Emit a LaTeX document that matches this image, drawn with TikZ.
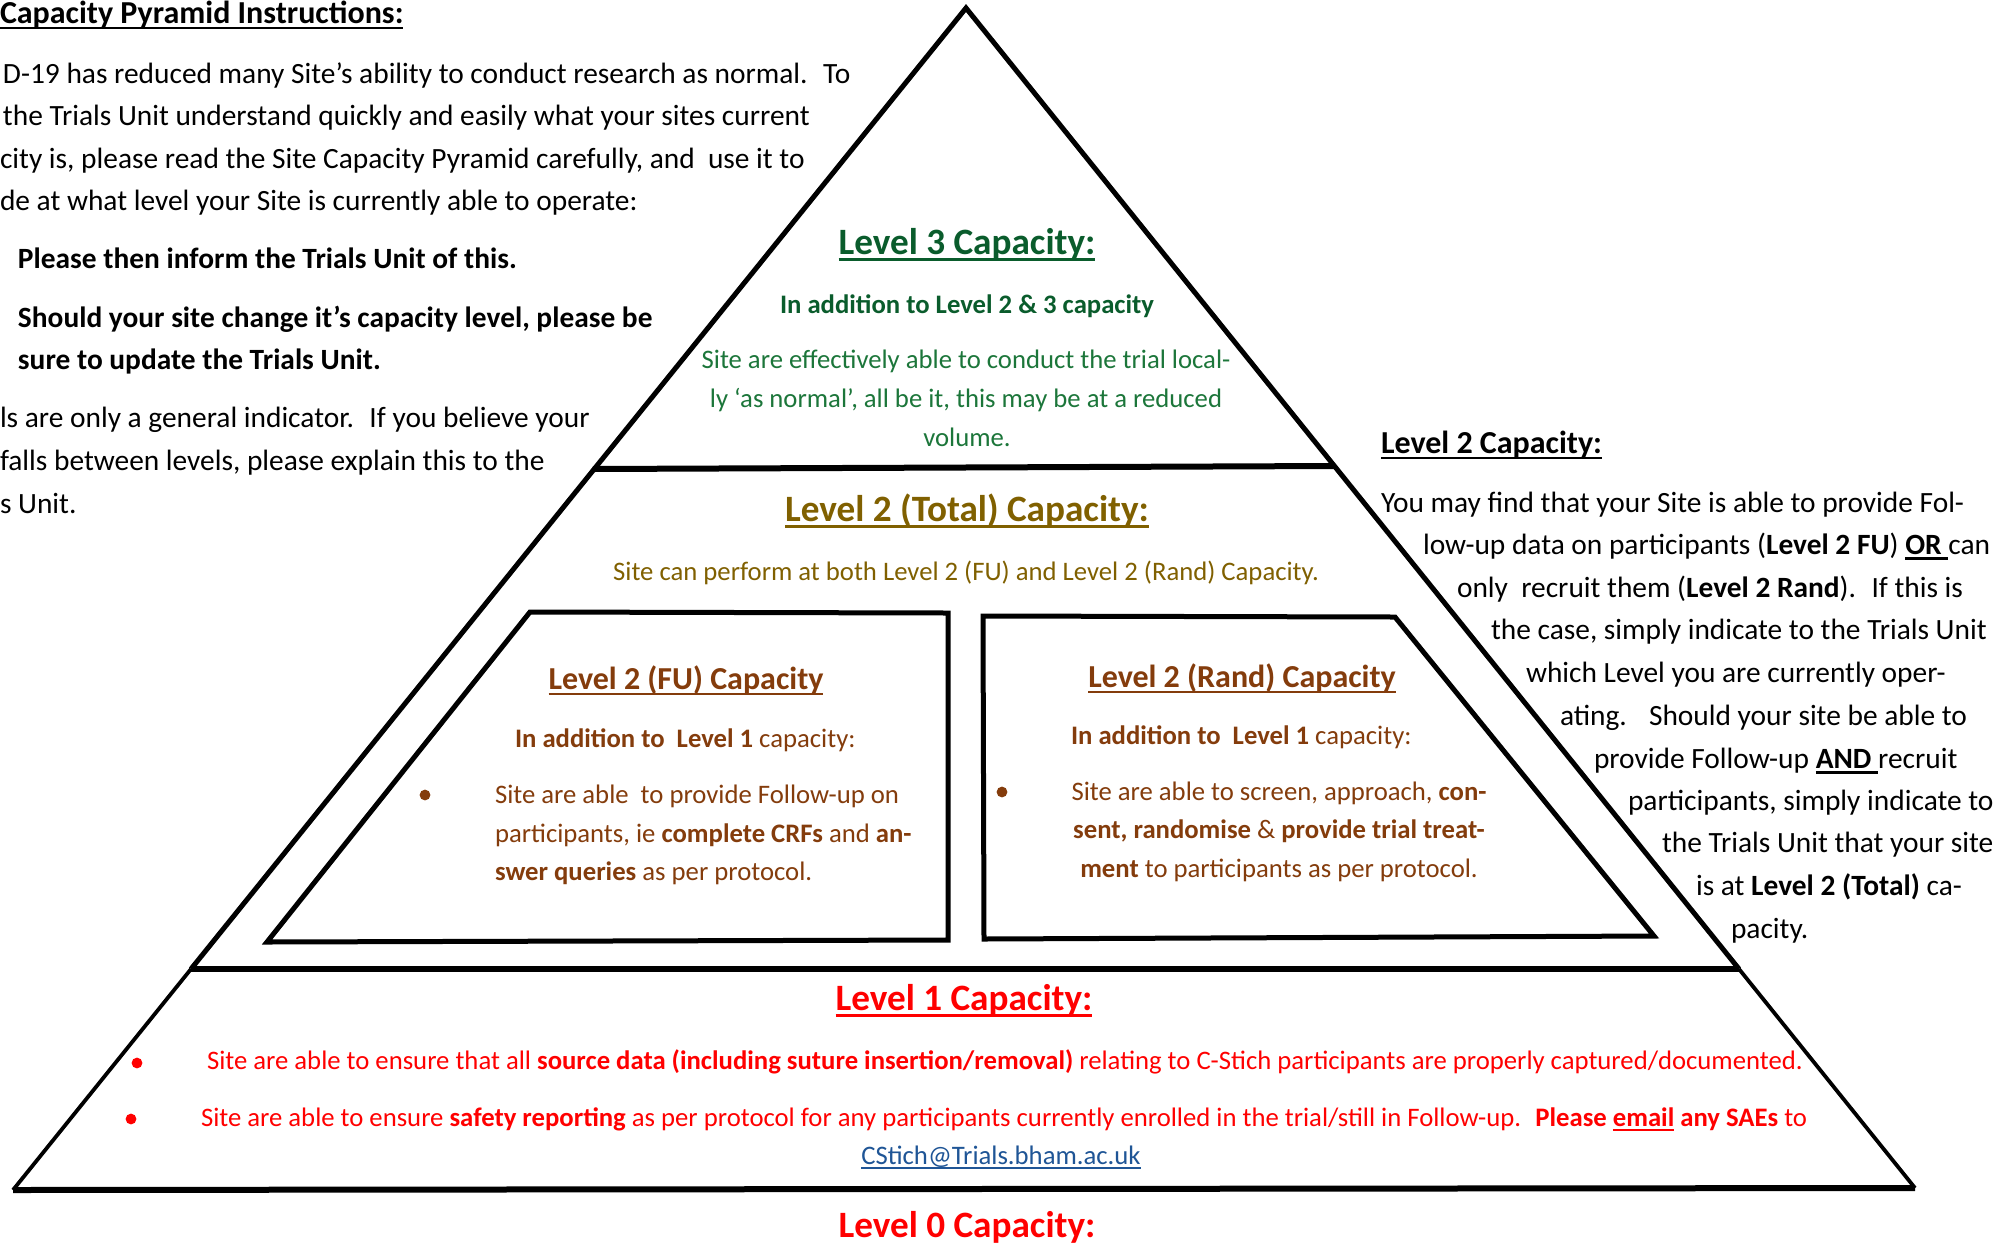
\documentclass[tikz,border=0pt]{standalone}
\usepackage{fontspec}
\setmainfont{Carlito}
\definecolor{gthree}{RGB}{10,92,44}
\definecolor{gbody}{RGB}{28,118,58}
\definecolor{olv}{RGB}{128,96,0}
\definecolor{brn}{RGB}{132,60,12}
\definecolor{lnk}{RGB}{31,85,150}
\newsavebox\ulbox
\newcommand\myul[1]{\sbox\ulbox{#1}\rlap{\rule[-0.19em]{\wd\ulbox}{0.075em}}\usebox\ulbox}
\newcommand\fA{\fontsize{13.35}{15}\selectfont}
\newcommand\fB{\fontsize{14.7}{17}\selectfont}
\newcommand\fC{\fontsize{16.0}{19}\selectfont}
\newcommand\fD{\fontsize{18.6}{22}\selectfont}
\tikzset{
  lt/.style={inner sep=0pt, outer sep=0pt, anchor=base west},
  ct/.style={inner sep=0pt, outer sep=0pt, anchor=base},
  pyr/.style={line width=2.5pt, line join=miter},
  lowside/.style={line width=1.9pt},
  divl/.style={line width=3pt},
  boxl/.style={line width=2.5pt, line join=miter},
}
\begin{document}
\begin{tikzpicture}[x=0.5pt,y=-0.5pt]
\fill[white] (0,0) rectangle (2013,1243);
\useasboundingbox (0,0) rectangle (2013,1243);

% ---- pyramid
\coordinate (A) at (966,8);
\coordinate (ML) at (191,969);
\coordinate (MR) at (1739,969);
\coordinate (BL) at (13,1190);
\coordinate (BR) at (1915,1188);
\draw[divl] (593,469) -- (1334,466);
\draw[divl] (ML) -- (MR);
\draw[lowside] (ML) -- (BL);
\draw[lowside] (MR) -- (BR);
\draw[divl] (BL) -- (BR);
\draw[pyr] (ML) -- (A) -- (MR);
\draw[boxl] (530,612) -- (948,613) -- (948,940) -- (267,942) -- cycle;
\draw[boxl] (983,616) -- (1395,617) -- (1654,936) -- (984,939) -- cycle;

% ---- left instructions
\node[lt,font=\fC\bfseries] (title) at (0,23) {\myul{Capacity Pyramid Instructions:}};
\node[lt,font=\fB] (l1) at (3,83) {D-19 has reduced many Site’s ability to conduct research as normal.~ To};
\node[lt,font=\fB] (l2) at (3,125) {the Trials Unit understand quickly and easily what your sites current};
\node[lt,font=\fB] (l3) at (0,168) {city is, please read the Site Capacity Pyramid carefully, and~ use it to};
\node[lt,font=\fB] (l4) at (0,210) {de at what level your Site is currently able to operate:};
\node[lt,font=\fB\bfseries] (b1) at (18,268) {Please then inform the Trials Unit of this.};
\node[lt,font=\fB\bfseries] (b2) at (18,327) {Should your site change it’s capacity level, please be};
\node[lt,font=\fB\bfseries] (b3) at (18,369) {sure to update the Trials Unit.};
\node[lt,font=\fB] (p1) at (0,427) {ls are only a general indicator.~ If you believe your};
\node[lt,font=\fB] (p2) at (0,470) {falls between levels, please explain this to the};
\node[lt,font=\fB] (p3) at (0,513) {s Unit.};

% ---- level 3
\node[ct,font=\fD\bfseries,text=gthree] (h3) at (967,254) {\myul{Level 3 Capacity:}};
\node[ct,font=\fA\bfseries,text=gthree] (a3) at (967,313) {In addition to Level 2 \& 3 capacity};
\node[ct,font=\fA,text=gbody] (g1) at (966,368) {Site are effectively able to conduct the trial local-};
\node[ct,font=\fA,text=gbody] (g2) at (966,407) {ly ‘as normal’, all be it, this may be at a reduced};
\node[ct,font=\fA,text=gbody] (g3) at (967,446) {volume.};

% ---- level 2 total
\node[ct,font=\fD\bfseries,text=olv] (h2t) at (967,521) {\myul{Level 2 (Total) Capacity:}};
\node[ct,font=\fA,text=olv] (s2t) at (966,580) {Site can perform at both Level 2 (FU) and Level 2 (Rand) Capacity.};

% ---- FU box
\node[ct,font=\fC\bfseries,text=brn] (hfu) at (686,689) {\myul{Level 2 (FU) Capacity}};
\node[lt,font=\fA,text=brn] (afu) at (515,747) {\textbf{In addition to~ Level 1} capacity:};
\fill[brn] (425,795) circle (2.7pt);
\node[lt,font=\fA,text=brn] (f1) at (495,803) {Site are able~ to provide Follow-up on};
\node[lt,font=\fA,text=brn] (f2) at (495,842) {participants, ie \textbf{complete CRFs} and \textbf{an-}};
\node[lt,font=\fA,text=brn] (f3) at (495,880) {\textbf{swer queries} as per protocol.};

% ---- Rand box
\node[ct,font=\fC\bfseries,text=brn] (hr) at (1242,687) {\myul{Level 2 (Rand) Capacity}};
\node[lt,font=\fA,text=brn] (ar) at (1071,744) {\textbf{In addition to~ Level 1} capacity:};
\fill[brn] (1002,792) circle (2.7pt);
\node[ct,font=\fA,text=brn] (r1) at (1279,800) {Site are able to screen, approach, \textbf{con-}};
\node[ct,font=\fA,text=brn] (r2) at (1279,838) {\textbf{sent, randomise} \& \textbf{provide trial treat-}};
\node[ct,font=\fA,text=brn] (r3) at (1279,877) {\textbf{ment} to participants as per protocol.};

% ---- level 1
\node[ct,font=\fD\bfseries,text=red] (h1) at (964,1010) {\myul{Level 1 Capacity:}};
\fill[red] (137,1063) circle (2.7pt);
\node[lt,font=\fA,text=red] (la) at (207,1069) {Site are able to ensure that all \textbf{source data (including suture insertion/removal)} relating to C-Stich participants are properly captured/documented.};
\fill[red] (131,1119) circle (2.7pt);
\node[lt,font=\fA,text=red] (lb) at (201,1126) {Site are able to ensure \textbf{safety reporting} as per protocol for any participants currently enrolled in the trial/still in Follow-up.~ \textbf{Please \myul{email} any SAEs} to};
\node[ct,font=\fA,text=lnk] (mail) at (1001,1164) {\myul{CStich@Trials.bham.ac.uk}};
\node[ct,font=\fD\bfseries,text=red] (h0) at (967,1237) {Level 0 Capacity:};

% ---- right text
\node[lt,font=\fC\bfseries] (rh) at (1381,453) {\myul{Level 2 Capacity:}};
\node[lt,font=\fB] (q1) at (1381,512) {You may find that your Site is able to provide Fol-};
\node[lt,font=\fB] (q2) at (1423,554) {low-up data on participants (\textbf{Level 2 FU}) \myul{\textbf{OR }}can};
\node[lt,font=\fB] (q3) at (1457,597) {only~ recruit them (\textbf{Level 2 Rand}).~ If this is};
\node[lt,font=\fB] (q4) at (1491,639) {the case, simply indicate to the Trials Unit};
\node[lt,font=\fB] (q5) at (1526,682) {which Level you are currently oper-};
\node[lt,font=\fB] (q6) at (1560,725) {ating.~~ Should your site be able to};
\node[lt,font=\fB] (q7) at (1594,768) {provide Follow-up \myul{\textbf{AND }}recruit};
\node[lt,font=\fB] (q8) at (1628,810) {participants, simply indicate to};
\node[lt,font=\fB] (q9) at (1662,852) {the Trials Unit that your site};
\node[lt,font=\fB] (q10) at (1696,895) {is at \textbf{Level 2 (Total)} ca-};
\node[lt,font=\fB] (q11) at (1731,938) {pacity.};
\end{tikzpicture}
\end{document}
